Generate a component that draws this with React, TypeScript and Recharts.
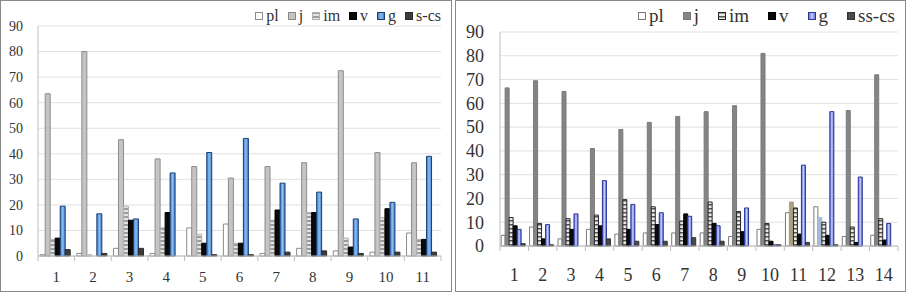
import React from 'react';
import { BarChart, Bar, Cell, XAxis, YAxis, CartesianGrid, Legend } from 'recharts';

// left panel
const catsLeft = ['1', '2', '3', '4', '5', '6', '7', '8', '9', '10', '11'];
const plLeft = [0.5, 1, 3, 1, 11, 12.5, 1, 3, 2, 1.5, 9];
const jLeft = [63.5, 80, 45.5, 38, 35, 30.5, 35, 36.5, 72.5, 40.5, 36.5];
const imLeft = [6.5, 0.5, 19.5, 11, 8.5, 5, 14, 17, 7, 15, 6.5];
const vLeft = [7, 0, 14, 17, 5, 5, 18, 17, 3.5, 18.5, 6.5];
const gLeft = [19.5, 16.5, 14.5, 32.5, 40.5, 46, 28.5, 25, 14.5, 21, 39];
const scsLeft = [2.5, 1, 3, 0, 0.5, 0.5, 1.5, 2, 1, 1.5, 1.5];

// right panel
const catsRight = ['1', '2', '3', '4', '5', '6', '7', '8', '9', '10', '11', '12', '13', '14'];
const plRight = [4.5, 8, 3, 7, 5, 5.5, 5.5, 5.5, 4, 7, 14, 16.5, 4, 4.5];
const jRight = [66.5, 69.5, 65, 41, 49, 52, 54.5, 56.5, 59, 81, 18.5, 12, 57, 72];
const imRight = [12, 9.5, 11.5, 13, 19.5, 16.5, 10.5, 18.5, 14.5, 9.5, 16, 10, 8, 11.5];
const vRight = [8.5, 3, 7, 8.5, 7, 9, 13.5, 9.5, 6, 2, 5, 4.5, 1.5, 2.5];
const gRight = [7, 9, 13.5, 27.5, 17.5, 14, 12.5, 8.5, 16, 0.5, 34, 56.5, 29, 9.5];
const sscsRight = [1, 0.5, 0, 3, 2, 2, 3.5, 2, 0, 0.5, 1.5, 0.5, 0, 0];

const yTicks = [0, 10, 20, 30, 40, 50, 60, 70, 80, 90];

// j bars in categories 11 and 12 of the right panel are tinted in the original
const jRightTint: Record<string, string> = { '11': '#aaa27e', '12': '#a7bad6' };

const leftData = catsLeft.map((c, i) => ({
  cat: c, pl: plLeft[i], j: jLeft[i], im: imLeft[i], v: vLeft[i], g: gLeft[i], 's-cs': scsLeft[i],
}));
const rightData = catsRight.map((c, i) => ({
  cat: c, pl: plRight[i], j: jRight[i], im: imRight[i], v: vRight[i], g: gRight[i], 'ss-cs': sscsRight[i],
}));

const leftSeries = [
  { key: 'pl', fill: '#ffffff', stroke: '#8a8a8a' },
  { key: 'j', fill: '#c4c4c4', stroke: '#8c8c8c' },
  { key: 'im', fill: 'url(#imL)', stroke: '#b0b0b0' },
  { key: 'v', fill: '#0a0a0a', stroke: '#000000' },
  { key: 'g', fill: 'url(#gL)', stroke: '#1d3f78' },
  { key: 's-cs', fill: '#3c3c3c', stroke: '#2a2a2a' },
];
const rightSeries = [
  { key: 'pl', fill: '#ffffff', stroke: '#7a7a7a' },
  { key: 'j', fill: '#858585', stroke: '#7a7a7a' },
  { key: 'im', fill: 'url(#imR)', stroke: '#262626' },
  { key: 'v', fill: '#0a0a0a', stroke: '#000000' },
  { key: 'g', fill: 'url(#gR)', stroke: '#2a3699' },
  { key: 'ss-cs', fill: '#4a4a4a', stroke: '#333333' },
];

const serif = "'Liberation Serif', 'Times New Roman', 'DejaVu Serif', serif";

const makeTick = (band: number, fontSize: number, dy: number) => (props: any) => {
  const { x, y, payload, index, visibleTicksCount } = props;
  const last = index === visibleTicksCount - 1;
  return (
    <g>
      <line x1={x - band / 2} x2={x - band / 2} y1={y} y2={y + 5} stroke="#bdbdbd" />
      {last && <line x1={x + band / 2} x2={x + band / 2} y1={y} y2={y + 5} stroke="#bdbdbd" />}
      <text x={x} y={y + dy} textAnchor="middle" style={{ fontSize, fontFamily: serif }} fill="#333">
        {payload.value}
      </text>
    </g>
  );
};

const makeYTick = (fontSize: number) => (props: any) => {
  const { x, y, payload } = props;
  return (
    <text x={x} y={y} dy={fontSize * 0.35} textAnchor="end" style={{ fontSize, fontFamily: serif }} fill="#333">
      {payload.value}
    </text>
  );
};

const makeLegend = (series: any[], fontSize: number, box: number, gap: number) => () => (
  <div style={{ display: 'flex', alignItems: 'center', fontFamily: serif, fontSize, color: '#333', whiteSpace: 'nowrap', lineHeight: 1 }}>
    {series.map((s, i) => (
      <span key={s.key} style={{ display: 'flex', alignItems: 'center', marginLeft: i === 0 ? 0 : gap, fontFamily: serif }}>
        <svg width={box} height={box} style={{ marginRight: 3 }}>
          <rect x={0.5} y={0.5} width={box - 1} height={box - 1} fill={s.fill} stroke={s.stroke} />
        </svg>
        {s.key}
      </span>
    ))}
  </div>
);

const Defs = () => (
  <defs>
    <pattern id="imL" width="4" height="4" patternUnits="userSpaceOnUse">
      <rect width="4" height="4" fill="#e4e4e4" />
      <rect width="4" height="2" fill="#9c9c9c" />
    </pattern>
    <pattern id="imR" width="4" height="4" patternUnits="userSpaceOnUse">
      <rect width="4" height="4" fill="#e8e8e8" />
      <rect width="4" height="1.5" fill="#555" />
    </pattern>
    <linearGradient id="gL" x1="0" y1="0" x2="1" y2="0">
      <stop offset="0%" stopColor="#3c78c8" />
      <stop offset="50%" stopColor="#8cc0f0" />
      <stop offset="100%" stopColor="#3c78c8" />
    </linearGradient>
    <linearGradient id="gR" x1="0" y1="0" x2="1" y2="0">
      <stop offset="0%" stopColor="#5262d0" />
      <stop offset="50%" stopColor="#c8d0f8" />
      <stop offset="100%" stopColor="#5262d0" />
    </linearGradient>
  </defs>
);

const App: React.FC = () => {
  return (
    <div style={{ position: 'fixed', left: 0, top: 0, width: 906, height: 294, background: '#fff', fontFamily: serif }}>
      <div style={{ position: 'absolute', left: 0, top: 0, width: 452, height: 292, border: '1.5px solid #8a8a8a', boxSizing: 'border-box' }} />
      <div style={{ position: 'absolute', left: 455, top: 0, width: 451, height: 292, border: '1.5px solid #8a8a8a', boxSizing: 'border-box' }} />

      <div style={{ position: 'absolute', left: 0, top: 0 }}>
        <BarChart width={452} height={292} data={leftData} margin={{ top: 10, right: 11, left: 0, bottom: 0 }}
          barCategoryGap="6%" barGap={0}>
          <Defs />
          <CartesianGrid vertical={false} stroke="#e0e0e0" />
          <XAxis dataKey="cat" height={36} stroke="#bdbdbd" tickLine={false} tickSize={0} tickMargin={0}
            interval={0} tick={makeTick(403 / 11, 15, 26)} />
          <YAxis width={38} domain={[0, 90]} ticks={yTicks} interval={0} stroke="#bdbdbd" tickLine={false} tickSize={0}
            tickMargin={15} tick={makeYTick(14)} />
          <Legend verticalAlign="top" align="right" wrapperStyle={{ top: 8, right: 11, width: 'auto', fontFamily: serif }}
            content={makeLegend(leftSeries, 16, 8, 9)} />
          {leftSeries.map((s) => (
            <Bar key={s.key} dataKey={s.key} fill={s.fill} stroke={s.stroke} strokeWidth={1} isAnimationActive={false} />
          ))}
        </BarChart>
      </div>

      <div style={{ position: 'absolute', left: 455, top: 0 }}>
        <BarChart width={451} height={294} data={rightData} margin={{ top: 13, right: 8, left: 0, bottom: 0 }}
          barCategoryGap="4%" barGap={0}>
          <Defs />
          <CartesianGrid vertical={false} stroke="#e0e0e0" />
          <XAxis dataKey="cat" height={48} stroke="#bdbdbd" tickLine={false} tickSize={0} tickMargin={0}
            interval={0} tick={makeTick(398 / 14, 18, 35)} />
          <YAxis width={45} domain={[0, 90]} ticks={yTicks} interval={0} stroke="#bdbdbd" tickLine={false} tickSize={0}
            tickMargin={16} tick={makeYTick(18)} />
          <Legend verticalAlign="top" align="right" wrapperStyle={{ top: 6, right: 11, width: 'auto', fontFamily: serif }}
            content={makeLegend(rightSeries, 19, 8, 19)} />
          {rightSeries.map((s) => (
            <Bar key={s.key} dataKey={s.key} fill={s.fill} stroke={s.stroke} strokeWidth={1} isAnimationActive={false}>
              {s.key === 'j' &&
                rightData.map((d) => (
                  <Cell key={d.cat} fill={jRightTint[d.cat] || s.fill} stroke={jRightTint[d.cat] || s.stroke} />
                ))}
            </Bar>
          ))}
        </BarChart>
      </div>
    </div>
  );
};

export default App;
